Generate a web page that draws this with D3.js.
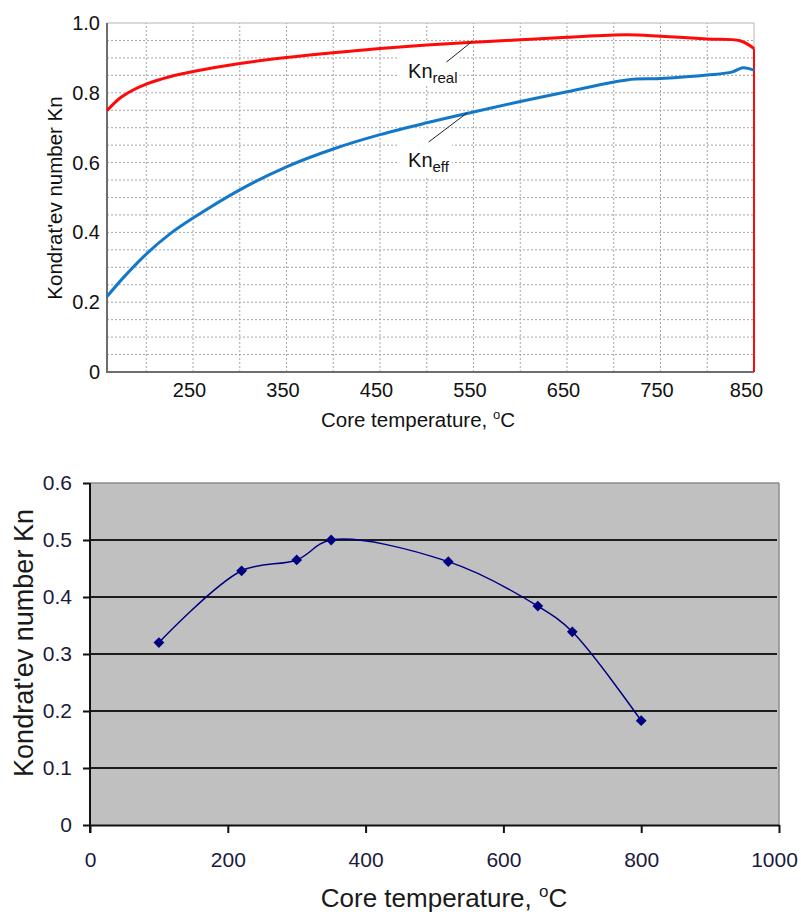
<!DOCTYPE html>
<html>
<head>
<meta charset="utf-8">
<script src="https://cdn.jsdelivr.net/npm/d3@7"></script>
<style>
    body { margin: 0; background: #fff; }
    svg { display: block; font-family: "Liberation Sans", Arial, sans-serif; }
</style>
</head>
<body>
<div id="chart"></div>
<script>
// ---- top chart: Kn_real / Kn_eff against core temperature
var realTemp = [158, 172, 186, 200, 225, 250, 300, 350, 400, 450, 500, 550, 600, 650, 714, 750, 800, 835, 850];
var realKn = [0.749, 0.785, 0.808, 0.825, 0.846, 0.861, 0.884, 0.901, 0.915, 0.927, 0.937, 0.945, 0.952, 0.959, 0.966, 0.962, 0.954, 0.949, 0.927];
var realDrop = [[850, 0.927], [850, 0]];   // red line falls to zero at the end
var effTemp = [158, 175, 200, 225, 250, 300, 350, 400, 450, 500, 550, 600, 650, 714, 750, 800, 827, 838, 850];
var effKn = [0.216, 0.269, 0.338, 0.395, 0.441, 0.522, 0.588, 0.639, 0.680, 0.714, 0.745, 0.775, 0.803, 0.837, 0.841, 0.851, 0.860, 0.872, 0.865];
var topXTicks = [250, 350, 450, 550, 650, 750, 850];
var topYTicks = [0, 0.2, 0.4, 0.6, 0.8, 1.0];
var topYFormat = ["0", "0.2", "0.4", "0.6", "0.8", "1.0"];

// labels on the curves (data units)
var curveLabels = [
    { name: "Kn", sub: "real", t: 480, kn: 0.842, box: [469, 535, 0.946, 0.825], lead: [[521, 0.888], [548, 0.946]] },
    { name: "Kn", sub: "eff", t: 480, kn: 0.587, box: [469, 527, 0.693, 0.559], lead: [[502, 0.659], [543, 0.742]] }
];

// ---- bottom chart: measured Kn
var measTemp = [100, 220, 300, 350, 520, 650, 700, 800];
var measKn = [0.320, 0.446, 0.465, 0.500, 0.462, 0.384, 0.339, 0.183];
var botXTicks = [0, 200, 400, 600, 800, 1000];
var botYTicks = [0, 0.1, 0.2, 0.3, 0.4, 0.5, 0.6];

var svg = d3.select("#chart")
    .append("svg")
    .attr("width", 801)
    .attr("height", 916);

//================ TOP CHART
var x1 = d3.scaleLinear().domain([158, 850]).range([107, 754]);
var y1 = d3.scaleLinear().domain([0, 1]).range([372, 23]);

var topG = svg.append("g").attr("class", "top");

// dotted grid
topG.append("g").selectAll("line")
    .data(d3.range(200, 850, 50))
    .enter().append("line")
    .attr("x1", d => x1(d)).attr("x2", d => x1(d))
    .attr("y1", y1(0)).attr("y2", y1(1))
    .attr("stroke", "#a6a6a6").attr("stroke-dasharray", "2,2");
topG.append("g").selectAll("line")
    .data(d3.range(1, 20).map(i => i * 0.05))
    .enter().append("line")
    .attr("x1", x1(158)).attr("x2", x1(850))
    .attr("y1", d => y1(d)).attr("y2", d => y1(d))
    .attr("stroke", "#a6a6a6").attr("stroke-dasharray", "2,2");

// frame
topG.append("line").attr("x1", x1(158)).attr("x2", x1(850)).attr("y1", y1(1)).attr("y2", y1(1))
    .attr("stroke", "#b4b4b4");
topG.append("line").attr("x1", x1(850)).attr("x2", x1(850)).attr("y1", y1(1)).attr("y2", y1(0))
    .attr("stroke", "#b4b4b4");
topG.append("line").attr("x1", x1(158)).attr("x2", x1(158)).attr("y1", y1(1)).attr("y2", y1(0) + 1)
    .attr("stroke", "#6e6e6e").attr("stroke-width", 2);
topG.append("line").attr("x1", x1(158) - 1).attr("x2", x1(850)).attr("y1", y1(0)).attr("y2", y1(0))
    .attr("stroke", "#6e6e6e").attr("stroke-width", 2);

// white label boxes covering grid
topG.append("g").selectAll("rect")
    .data(curveLabels)
    .enter().append("rect")
    .attr("x", d => x1(d.box[0]))
    .attr("width", d => x1(d.box[1]) - x1(d.box[0]))
    .attr("y", d => y1(d.box[2]))
    .attr("height", d => y1(d.box[3]) - y1(d.box[2]))
    .attr("fill", "#fff");

// axes labels
var topAxisY = topG.append("g")
    .attr("transform", "translate(" + x1(158) + ",0)")
    .call(d3.axisLeft(y1).tickValues(topYTicks).tickSize(0).tickPadding(7)
        .tickFormat((d, i) => topYFormat[i]));
var topAxisX = topG.append("g")
    .attr("transform", "translate(0," + y1(0) + ")")
    .call(d3.axisBottom(x1).tickValues(topXTicks).tickSize(0).tickPadding(11));
[topAxisY, topAxisX].forEach(a => {
    a.select(".domain").remove();
    a.selectAll("text").style("font-size", "20px").style("font-family", "inherit").attr("fill", "#111");
});
topAxisX.selectAll("text").attr("dx", d => d === 850 ? -8 : -4);

// curves
var realLine = d3.line()
    .x((d, i) => x1(realTemp[i]))
    .y(d => y1(d))
    .curve(d3.curveCatmullRom.alpha(0.5));
topG.append("path")
    .attr("d", realLine(realKn))
    .attr("fill", "none").attr("stroke", "#ff0a0a").attr("stroke-width", 3);
topG.append("path")
    .attr("d", d3.line().x(d => x1(d[0])).y(d => y1(d[1]))(realDrop))
    .attr("fill", "none").attr("stroke", "#ff0a0a").attr("stroke-width", 2);

var effLine = d3.line()
    .x((d, i) => x1(effTemp[i]))
    .y(d => y1(d))
    .curve(d3.curveCatmullRom.alpha(0.5));
topG.append("path")
    .attr("d", effLine(effKn))
    .attr("fill", "none").attr("stroke", "#1478c8").attr("stroke-width", 3);

// leader lines and labels
topG.append("g").selectAll("line")
    .data(curveLabels)
    .enter().append("line")
    .attr("x1", d => x1(d.lead[0][0])).attr("y1", d => y1(d.lead[0][1]))
    .attr("x2", d => x1(d.lead[1][0])).attr("y2", d => y1(d.lead[1][1]))
    .attr("stroke", "#222").attr("stroke-width", 1);
var lbl = topG.append("g").selectAll("text")
    .data(curveLabels)
    .enter().append("text")
    .attr("x", d => x1(d.t))
    .attr("y", d => y1(d.kn))
    .attr("fill", "#111")
    .style("font-size", "20px");
lbl.append("tspan").text(d => d.name);
lbl.append("tspan").attr("dy", 5).style("font-size", "15px").text(d => d.sub);

// titles
topG.append("text")
    .attr("x", 418).attr("y", 427)
    .attr("text-anchor", "middle")
    .attr("fill", "#111")
    .style("font-size", "20.5px")
    .call(t => {
        t.append("tspan").text("Core temperature, ");
        t.append("tspan").attr("dy", -8).style("font-size", "13px").text("o");
        t.append("tspan").attr("dy", 8).text("C");
    });
topG.append("text")
    .attr("transform", "translate(62," + 198 + ") rotate(-90)")
    .attr("text-anchor", "middle")
    .attr("fill", "#111")
    .style("font-size", "20.5px")
    .text("Kondrat'ev number Kn");

//================ BOTTOM CHART
var x2 = d3.scaleLinear().domain([0, 1000]).range([90, 779]);
var y2 = d3.scaleLinear().domain([0, 0.6]).range([825, 483]);

var bot = svg.append("g").attr("class", "bottom");

bot.append("rect")
    .attr("x", x2(0)).attr("y", y2(0.6))
    .attr("width", x2(1000) - x2(0)).attr("height", y2(0) - y2(0.6))
    .attr("fill", "#c0c0c0");
bot.append("line").attr("x1", x2(0)).attr("x2", x2(1000)).attr("y1", y2(0.6)).attr("y2", y2(0.6))
    .attr("stroke", "#8c8c8c").attr("stroke-width", 1.5);
bot.append("line").attr("x1", x2(1000)).attr("x2", x2(1000)).attr("y1", y2(0.6)).attr("y2", y2(0))
    .attr("stroke", "#8c8c8c").attr("stroke-width", 1.5);

bot.append("g").selectAll("line")
    .data(botYTicks.filter(d => d > 0 && d < 0.6))
    .enter().append("line")
    .attr("x1", x2(0)).attr("x2", x2(1000) - 2)
    .attr("y1", d => y2(d)).attr("y2", d => y2(d))
    .attr("stroke", "#1c1c1c").attr("stroke-width", 2);

var botAxisY = bot.append("g")
    .attr("transform", "translate(" + x2(0) + ",0)")
    .call(d3.axisLeft(y2).tickValues(botYTicks).tickSize(7).tickSizeOuter(0).tickPadding(11)
        .tickFormat(d => d === 0 ? "0" : d3.format(".1f")(d)));
var botAxisX = bot.append("g")
    .attr("transform", "translate(0," + y2(0) + ")")
    .call(d3.axisBottom(x2).tickValues(botXTicks).tickSize(8).tickSizeOuter(0).tickPadding(19)
        .tickFormat(d3.format("d")));
[botAxisY, botAxisX].forEach(a => {
    a.select(".domain").attr("stroke", "#111").attr("stroke-width", 2);
    a.selectAll(".tick line").attr("stroke", "#111").attr("stroke-width", 2);
    a.selectAll("text").style("font-size", "21px").style("font-family", "inherit").attr("fill", "#1a1a3a");
});
botAxisY.select(".domain").attr("d", "M0," + (y2(0.6)) + "V" + (y2(0) + 8));
botAxisX.selectAll("text").attr("dx", d => d === 1000 ? -5 : 0);

var measLine = d3.line()
    .x((d, i) => x2(measTemp[i]))
    .y(d => y2(d))
    .curve(d3.curveCatmullRom.alpha(0.5));
bot.append("path")
    .attr("d", measLine(measKn))
    .attr("fill", "none").attr("stroke", "#000080").attr("stroke-width", 1.5);

bot.append("g").selectAll("path")
    .data(measKn)
    .enter().append("path")
    .attr("d", d3.symbol().type(d3.symbolSquare).size(58))
    .attr("transform", (d, i) => "translate(" + x2(measTemp[i]) + "," + y2(d) + ") rotate(45)")
    .attr("fill", "#000080");

bot.append("text")
    .attr("x", 444).attr("y", 907)
    .attr("text-anchor", "middle")
    .attr("fill", "#1a1a1a")
    .style("font-size", "26px")
    .call(t => {
        t.append("tspan").text("Core temperature, ");
        t.append("tspan").attr("dy", -10).style("font-size", "17px").text("o");
        t.append("tspan").attr("dy", 10).text("C");
    });
bot.append("text")
    .attr("transform", "translate(33," + 643 + ") rotate(-90)")
    .attr("text-anchor", "middle")
    .attr("fill", "#1a1a1a")
    .style("font-size", "27px")
    .text("Kondrat'ev number Kn");
</script>
</body>
</html>
